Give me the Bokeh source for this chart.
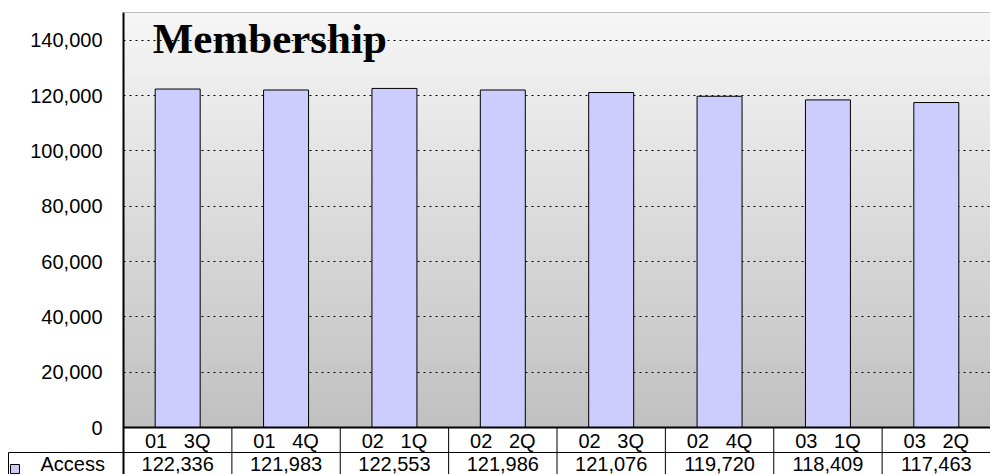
from bokeh.plotting import figure
from bokeh.models import Range1d, FixedTicker, NumeralTickFormatter, Label, Span
from bokeh.embed import file_html
from bokeh.resources import INLINE
from bokeh.core.properties import value

# ---- data ----
NB = "\u00a0"
categories = ["01" + NB * 3 + "3Q", "01" + NB * 3 + "4Q", "02" + NB * 3 + "1Q", "02" + NB * 3 + "2Q",
              "02" + NB * 3 + "3Q", "02" + NB * 3 + "4Q", "03" + NB * 3 + "1Q", "03" + NB * 3 + "2Q"]
access = [122336, 121983, 122553, 121986, 121076, 119720, 118409, 117463]
series_name = "Access"
y_ticks = [0, 20000, 40000, 60000, 80000, 100000, 120000, 140000]
title_text = "Membership"

# ---- layout constants (style only) ----
n = len(categories)
xs = [i + 0.5 for i in range(n)]
Y_MAX = 150000
W, H = 990, 474
LEFT, TOP = 123, 12
ZERO_PX = 427                 # screen row of value 0
UNIT = (W - LEFT) / n         # px per category
PXU = Y_MAX / (ZERO_PX - TOP) # data units per px (vertical)
FONT = "Liberation Sans"
FS = "20px"
BAR_COLOR = "#CCCCFF"

def ydat(px):   # screen row -> data y (layout helper)
    return (ZERO_PX - px) * PXU

def xdat(px):   # screen column -> data x (layout helper)
    return (px - LEFT) / UNIT

y_bottom = ydat(H)

p = figure(width=W, height=H, x_range=Range1d(0, n), y_range=Range1d(y_bottom, Y_MAX),
           output_backend="svg", toolbar_location=None, x_axis_location=None,
           min_border_left=LEFT, min_border_right=0, min_border_top=TOP, min_border_bottom=0)
p.outline_line_color = None
p.background_fill_color = "white"
p.border_fill_color = "white"
p.xgrid.visible = False

# gradient plot-area background
steps = 83
band = Y_MAX / steps
bottoms = [band * k for k in range(steps)]
tops = [min(band * (k + 1.6), Y_MAX) for k in range(steps)]
colors = []
for k in range(steps):
    t_ = (k + 0.5) / steps
    g = int(round(192 + (246 - 192) * t_))
    colors.append("#%02x%02x%02x" % (g, g, g))
p.quad(left=0, right=n, bottom=bottoms, top=tops, fill_color=colors, line_color=None, level="image")

p.ygrid.ticker = FixedTicker(ticks=y_ticks[1:])
p.ygrid.grid_line_color = "black"
p.ygrid.grid_line_dash = "2 4"
p.ygrid.grid_line_width = 1

ax = p.yaxis[0]
ax.ticker = FixedTicker(ticks=y_ticks)
ax.formatter = NumeralTickFormatter(format="0,0")
ax.major_label_text_font = FONT
ax.major_label_text_font_size = FS
ax.major_label_text_color = "black"
ax.major_label_standoff = 21
ax.major_tick_in = 0
ax.major_tick_out = 0
ax.major_tick_line_color = None
ax.minor_tick_line_color = None
ax.axis_line_color = "black"
ax.axis_line_width = 2

p.vbar(x=xs, top=access, bottom=0, width=0.415, fill_color=BAR_COLOR, line_color="black", line_width=1)

p.add_layout(Span(location=Y_MAX, dimension="width", line_color="#808080", line_width=1))
p.add_layout(Span(location=0, dimension="width", line_color="black", line_width=2))
p.add_layout(Label(x=0.27, y=ydat(38), text=title_text, text_font="Liberation Serif",
                   text_font_style="bold", text_font_size="43px", text_color="black",
                   text_baseline="alphabetic"))

# ---- data table below the axis ----
row_line = ydat(452)
leg_x = xdat(8)
x0 = [float(k) for k in range(1, n)]
y0 = [0.0] * (n - 1)
x1 = [float(k) for k in range(1, n)]
y1 = [y_bottom] * (n - 1)
p.segment(x0=x0, y0=y0, x1=x1, y1=y1, line_color="black", line_width=1)
# legend-cell border + row separator as one polyline
p.line(x=[leg_x, leg_x, float(n)], y=[y_bottom, row_line, row_line], line_color="black",
       line_width=1, level="overlay")

p.text(x=xs, y=ydat(440), text=categories, text_align="center", text_baseline="alphabetic",
       text_font=value(FONT), text_font_size=FS, text_color="black")
value_labels = [f"{v:,}" for v in access]
p.text(x=xs, y=ydat(463), text=value_labels, text_align="center", text_baseline="alphabetic",
       text_font=value(FONT), text_font_size=FS, text_color="black")

# legend key and series name (left of the plot area)
kx0, kx1, ky0, ky1 = xdat(10), xdat(19), ydat(464), ydat(473)
p.patch(x=[kx0, kx1, kx1, kx0], y=[ky0, ky0, ky1, ky1], fill_color=BAR_COLOR,
        line_color="black", line_width=1, level="overlay")
p.text(x=[xdat(40)], y=[ydat(463)], text=[series_name], text_align="left",
       text_baseline="alphabetic", text_font=value(FONT), text_font_size=FS,
       text_color="black", level="overlay")

open("out.html", "w").write(file_html(p, INLINE))
